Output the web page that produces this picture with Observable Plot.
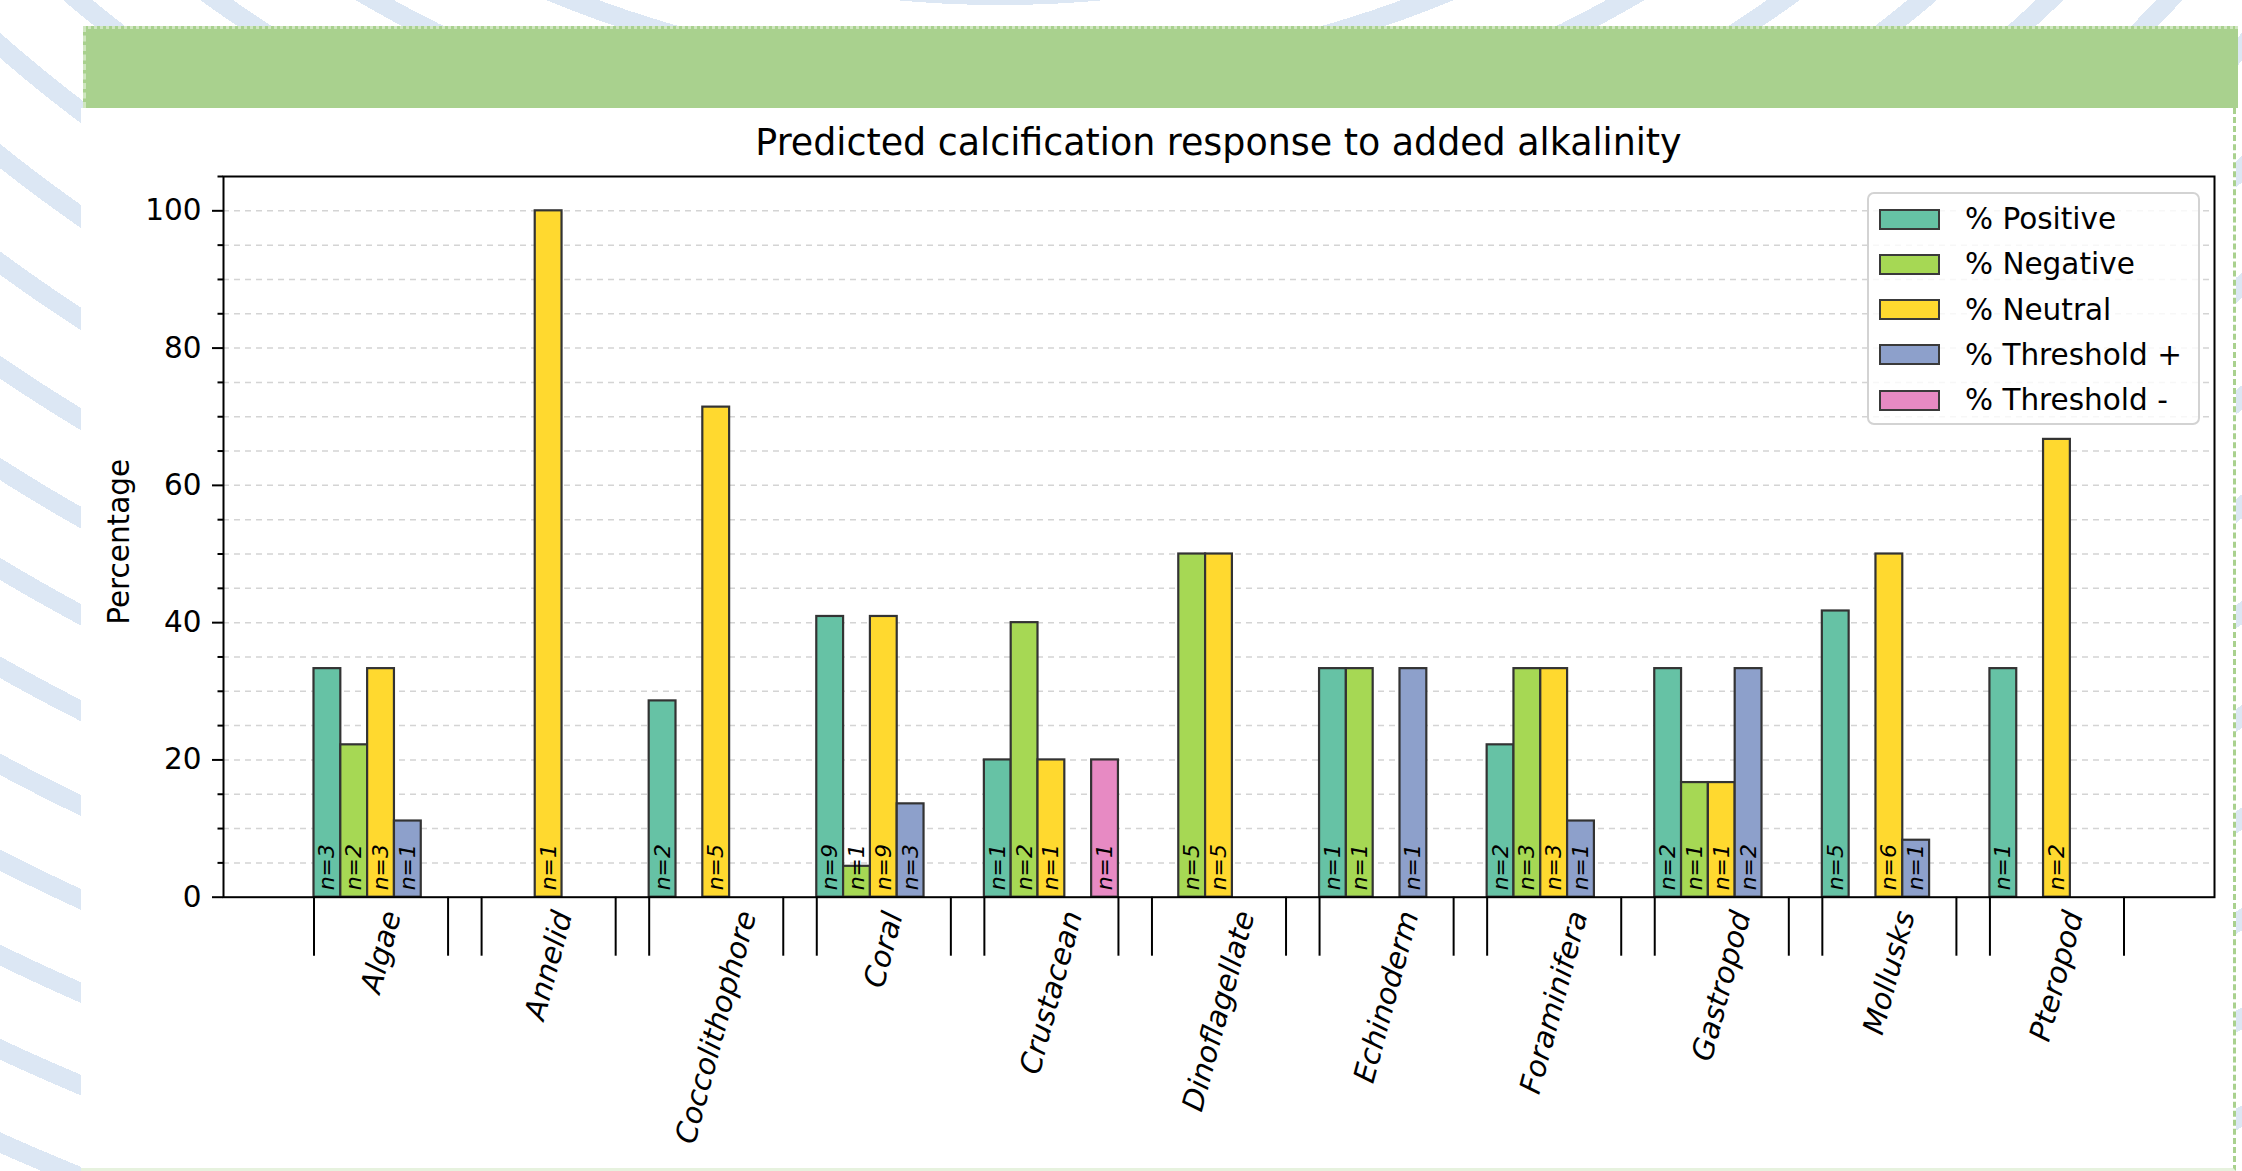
<!DOCTYPE html>
<html>
<head>
<meta charset="utf-8">
<script src="https://cdn.jsdelivr.net/npm/d3@7"></script>
<script src="https://cdn.jsdelivr.net/npm/@observablehq/plot@0.6"></script>
<style>
html, body { margin: 0; padding: 0; }
body {
  width: 2242px; height: 1171px; position: relative; overflow: hidden;
  background: #fff repeating-radial-gradient(circle at 1000px -1100px, #ffffff 0px, #ffffff 66px, #dce7f4 66px, #dce7f4 85px);
  font-family: "DejaVu Sans", sans-serif;
}
#panel {
  position: absolute; left: 81px; top: 108px; width: 2152px; height: 1060px;
  background: #fff; border-right: 3px dashed #a9d18e; border-bottom: 3px solid #e6f2de;
}
#banner {
  position: absolute; left: 83px; top: 26px; width: 2155px; height: 82px;
  background: #a9d18e; box-sizing: border-box;
  border-top: 3px dotted #cfe6bf; border-left: 3px dashed #cfe6bf;
}
#title {
  position: absolute; left: 223px; width: 1991px; top: 125px;
  text-align: center; font-size: 36.4px; line-height: 1; color: #000;
}
#chart { position: absolute; left: 0; top: 160px; }
#legend {
  position: absolute; left: 1867px; top: 192px; width: 333px; height: 233px;
  box-sizing: border-box; border: 2px solid #d3d3d3; border-radius: 7px;
  background: rgba(255,255,255,0.8);
}
.lrow { position: absolute; left: 10px; height: 45.3px; display: flex; align-items: center; font-size: 29.5px; white-space: nowrap; }
.lsw { width: 61px; height: 21px; box-sizing: border-box; border: 2px solid #3a3a3a; margin-right: 25px; }
</style>
</head>
<body>
<div id="panel"></div>
<div id="banner"></div>
<div id="title">Predicted calcification response to added alkalinity</div>
<div id="chart"></div>
<div id="legend"></div>
<script>
// ---- data ----
const categories = ["Algae","Annelid","Coccolithophore","Coral","Crustacean","Dinoflagellate","Echinoderm","Foraminifera","Gastropod","Mollusks","Pteropod"];
const seriesNames = ["% Positive","% Negative","% Neutral","% Threshold +","% Threshold -"];
const seriesColors = ["#66c2a5","#a6d854","#ffd92f","#8da0cb","#e78ac3"];
const pctPositive    = [33.3, 0,    28.6, 40.9, 20, 0,  33.3, 22.2, 33.3, 41.7, 33.3];
const pctNegative    = [22.2, 0,    0,    4.5,  40, 50, 33.3, 33.3, 16.7, 0,    0];
const pctNeutral     = [33.3, 100,  71.4, 40.9, 20, 50, 0,    33.3, 16.7, 50,   66.7];
const pctThreshPlus  = [11.1, 0,    0,    13.6, 0,  0,  33.3, 11.1, 33.3, 8.3,  0];
const pctThreshMinus = [0,    0,    0,    0,    20, 0,  0,    0,    0,    0,    0];
const nPositive    = [3, 0, 2, 9, 1, 0, 1, 2, 2, 5, 1];
const nNegative    = [2, 0, 0, 1, 2, 5, 1, 3, 1, 0, 0];
const nNeutral     = [3, 1, 5, 9, 1, 5, 0, 3, 1, 6, 2];
const nThreshPlus  = [1, 0, 0, 3, 0, 0, 1, 1, 2, 1, 0];
const nThreshMinus = [0, 0, 0, 0, 1, 0, 0, 0, 0, 0, 0];
const yTicks = [0, 20, 40, 60, 80, 100];
const yMinorTicks = [5, 10, 15, 25, 30, 35, 45, 50, 55, 65, 70, 75, 85, 90, 95, 105];
const gridTicks = [5,10,15,20,25,30,35,40,45,50,55,60,65,70,75,80,85,90,95,100];
const yLabel = "Percentage";

const pctSeries = [pctPositive, pctNegative, pctNeutral, pctThreshPlus, pctThreshMinus];
const nSeries = [nPositive, nNegative, nNeutral, nThreshPlus, nThreshMinus];
const barWidth = 0.16;
const nSlots = seriesNames.length;

const rows = [];
categories.forEach((cat, i) => {
  seriesNames.forEach((s, j) => {
    const x1 = i + j * barWidth;
    rows.push({cat, series: s, value: pctSeries[j][i], n: nSeries[j][i], x1, x2: x1 + barWidth});
  });
});
const drawn = rows.filter(d => d.value > 0);
const groupEdges = categories.flatMap((c, i) => [i, i + nSlots * barWidth]);
const groupCenters = categories.map((c, i) => i + nSlots * barWidth / 2);
const xLo = -0.05 * (categories.length - 1 + nSlots * barWidth);
const xHi = (categories.length - 1 + nSlots * barWidth) * 1.05;

const plot = Plot.plot({
  width: 2242,
  height: 1011,
  marginLeft: 223,
  marginRight: 28,
  marginTop: 16,
  marginBottom: 274.3,
  x: {domain: [xLo, xHi], label: null},
  y: {domain: [0, 105], label: null},
  color: {domain: seriesNames, range: seriesColors},
  style: {fontFamily: "DejaVu Sans", background: "transparent", overflow: "visible", color: "black"},
  marks: [
    Plot.gridY(gridTicks, {stroke: "#d4d4d4", strokeOpacity: 1, strokeDasharray: "6,5", strokeWidth: 1.5}),
    Plot.rect(drawn, {x1: "x1", x2: "x2", y1: 0, y2: "value", fill: "series", stroke: "#333333", strokeWidth: 2.2}),
    Plot.text(drawn, {x: d => (d.x1 + d.x2) / 2, y: 1, text: d => `n=${d.n}`, rotate: -90, textAnchor: "start", lineAnchor: "middle", fontSize: 22, fontStyle: "italic", fill: "black"}),
    Plot.frame({stroke: "black", strokeWidth: 2}),
    Plot.axisY({ticks: yTicks, tickSize: 11, tickPadding: 11, fontSize: 29.5, strokeWidth: 2, label: null, tickFormat: d => String(d)}),
    Plot.axisY({ticks: yMinorTicks, tickSize: 5.5, strokeWidth: 2, label: null, tickFormat: () => ""}),
    Plot.axisX({ticks: groupEdges, tickSize: 59, strokeWidth: 2, label: null, tickFormat: () => ""}),
    Plot.axisX({ticks: groupCenters, tickSize: 0, tickFormat: v => categories[Math.round(v - nSlots * barWidth / 2)], tickRotate: -75, fontSize: 29.5, fontStyle: "italic", textAnchor: "end", lineAnchor: "middle", label: null}),
    Plot.text([yLabel], {frameAnchor: "left", text: d => d, rotate: -90, dx: -104, dy: 5, fontSize: 29.5, textAnchor: "middle", lineAnchor: "middle", fill: "black"})
  ]
});
document.getElementById("chart").appendChild(plot);

// Align rotated category labels like matplotlib (bbox centred under the group, top just below the axis)
const xs = plot.scale("x");
const svgRect = plot.getBoundingClientRect();
const frameBottom = 1011 - 274.3;
plot.querySelectorAll("text").forEach(t => {
  const k = categories.indexOf(t.textContent);
  if (k < 0) return;
  const r = t.getBoundingClientRect();
  const cx = r.left + r.width / 2 - svgRect.left;
  const top = r.top - svgRect.top;
  const targetX = xs.apply(groupCenters[k]);
  const targetTop = frameBottom + 10.5;
  const prev = t.getAttribute("transform") || "";
  t.setAttribute("transform", `translate(${targetX - cx},${targetTop - top}) ` + prev);
});

// Legend
const legend = document.getElementById("legend");
seriesNames.forEach((s, j) => {
  const row = document.createElement("div");
  row.className = "lrow";
  row.style.top = (2.4 + j * 45.3) + "px";
  const sw = document.createElement("div");
  sw.className = "lsw";
  sw.style.background = seriesColors[j];
  const lab = document.createElement("span");
  lab.textContent = s;
  row.appendChild(sw);
  row.appendChild(lab);
  legend.appendChild(row);
});
</script>
</body>
</html>
